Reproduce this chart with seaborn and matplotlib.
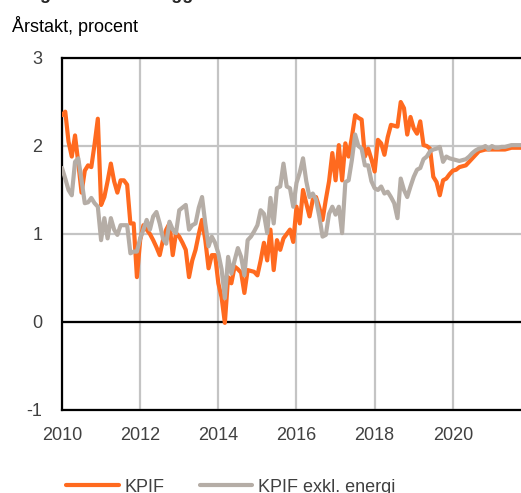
import numpy as np
import pandas as pd
import seaborn as sns
import matplotlib
import matplotlib.pyplot as plt

matplotlib.use('Agg')

# monthly values, jan 2010 - dec 2021 (annual change, percent)
kpif = [2.35, 2.39, 2.05, 1.88, 2.12, 1.81, 1.47, 1.72, 1.78, 1.76, 2.02, 2.31,
        1.33, 1.42, 1.60, 1.80, 1.60, 1.47, 1.61, 1.61, 1.56, 1.12, 1.12, 0.51,
        0.93, 1.10, 1.05, 1.00, 0.93, 0.85, 0.76, 0.93, 1.05, 1.12, 0.76, 1.01,
        0.97, 0.90, 0.82, 0.51, 0.70, 0.82, 1.00, 1.16, 0.93, 0.61, 0.76, 0.76,
        0.44, 0.28, -0.01, 0.51, 0.44, 0.63, 0.60, 0.56, 0.33, 0.59, 0.58, 0.57,
        0.53, 0.70, 0.90, 0.70, 1.05, 0.59, 0.93, 0.82, 0.95, 1.00, 1.05, 0.91,
        1.31, 1.12, 1.50, 1.35, 1.20, 1.39, 1.42, 1.30, 1.16, 1.39, 1.60, 1.92,
        1.61, 2.01, 1.61, 2.03, 1.88, 2.10, 2.35, 2.32, 2.30, 1.88, 1.97, 1.85,
        1.71, 2.07, 2.03, 1.90, 2.10, 2.24, 2.23, 2.22, 2.50, 2.43, 2.13, 2.33,
        2.20, 2.14, 2.28, 2.01, 2.00, 1.97, 1.65, 1.59, 1.44, 1.61, 1.63, 1.68,
        1.72, 1.73, 1.76, 1.77, 1.78, 1.82, 1.86, 1.90, 1.94, 1.95, 1.96, 1.96,
        1.96, 1.96, 1.96, 1.96, 1.96, 1.97, 1.98, 1.98, 1.98, 1.98, 1.98, 1.98]

kpif_exkl_energi = [1.75, 1.63, 1.50, 1.44, 1.82, 1.86, 1.61, 1.35, 1.36, 1.41, 1.35, 1.31,
                    0.93, 1.18, 0.95, 1.18, 1.05, 0.99, 1.10, 1.10, 1.10, 0.78, 0.80, 0.80,
                    0.95, 1.05, 1.16, 1.05, 1.20, 1.25, 1.12, 0.95, 0.89, 1.14, 1.05, 1.01,
                    1.27, 1.30, 1.33, 1.05, 1.10, 1.12, 1.30, 1.42, 1.12, 0.86, 0.97, 0.90,
                    0.78, 0.60, 0.27, 0.74, 0.55, 0.70, 0.84, 0.74, 0.53, 0.93, 0.97, 1.03,
                    1.10, 1.27, 1.23, 1.01, 1.41, 1.12, 1.52, 1.54, 1.80, 1.54, 1.52, 1.31,
                    1.58, 1.70, 1.86, 1.60, 1.42, 1.46, 1.39, 1.20, 0.97, 0.99, 1.23, 1.31,
                    1.22, 1.31, 1.01, 1.59, 1.61, 1.84, 2.13, 2.00, 1.97, 1.78, 1.78, 1.60,
                    1.52, 1.50, 1.54, 1.46, 1.48, 1.42, 1.35, 1.18, 1.63, 1.50, 1.42, 1.54,
                    1.65, 1.73, 1.75, 1.85, 1.88, 1.94, 1.96, 1.97, 1.99, 1.82, 1.88, 1.86,
                    1.85, 1.84, 1.83, 1.84, 1.85, 1.88, 1.92, 1.95, 1.97, 1.98, 2.00, 1.96,
                    2.00, 1.98, 1.98, 1.99, 1.99, 2.00, 2.01, 2.01, 2.01, 2.01, 2.01, 2.01]

series_names = ['KPIF', 'KPIF exkl. energi']
colors = ['#ff6a1f', '#b5ada6']
x_ticks = [2010, 2012, 2014, 2016, 2018, 2020]
y_ticks = [-1, 0, 1, 2, 3]

dates = pd.date_range('2010-01-01', periods=len(kpif), freq='MS')
year_frac = dates.year + (dates.month - 1) / 12

df = pd.DataFrame({
    'year': np.concatenate([year_frac, year_frac]),
    'value': kpif + kpif_exkl_energi,
    'serie': [series_names[0]] * len(kpif) + [series_names[1]] * len(kpif_exkl_energi),
})

sns.set_style('white')
plt.rcParams['font.family'] = ['Liberation Sans', 'DejaVu Sans']

fig = plt.figure(figsize=(5.21, 4.93), dpi=100)
# plot area runs past the right edge of the picture (cropped original)
ax = fig.add_axes([62 / 521, 83 / 493, 469 / 521, 352 / 493])

sns.lineplot(data=df, x='year', y='value', hue='serie', palette=colors,
             linewidth=3.0, ax=ax, legend=False, zorder=3)

ax.set_xlim(2010, 2022)
ax.set_ylim(-1, 3)
ax.set_xticks(x_ticks)
ax.set_yticks(y_ticks)
ax.set_xticklabels([str(t) for t in x_ticks])
ax.set_yticklabels([str(t) for t in y_ticks])
ax.set_xlabel('')
ax.set_ylabel('')
ax.tick_params(length=0, labelsize=13, labelcolor='#404040')
ax.tick_params(axis='y', pad=14)
ax.tick_params(axis='x', pad=12)

ax.grid(True, color='#c4c4c4', linewidth=1.6, zorder=0)
ax.axhline(0, color='black', linewidth=1.6, zorder=2)
for side in ['left', 'top', 'bottom']:
    ax.spines[side].set_color('black')
    ax.spines[side].set_linewidth(1.6)
ax.spines['right'].set_visible(False)

fig.text(12 / 521, 1 - 32 / 493, 'Årstakt, procent', fontsize=13, color='black', va='baseline')
fig.text(12 / 521, 1 + 1 / 493, 'Diagram 5. Underliggande inflation', fontsize=13,
         fontweight='bold', va='baseline')

handles = [plt.Line2D([], [], color=c, linewidth=3.0) for c in colors]
fig.legend(handles, series_names, loc='lower left', bbox_to_anchor=(50 / 521, -19 / 493),
           ncol=2, frameon=False, fontsize=13, handlelength=2.9, handletextpad=0.3,
           columnspacing=2.0, labelcolor='#404040')

fig.savefig('out.png', dpi=100)
